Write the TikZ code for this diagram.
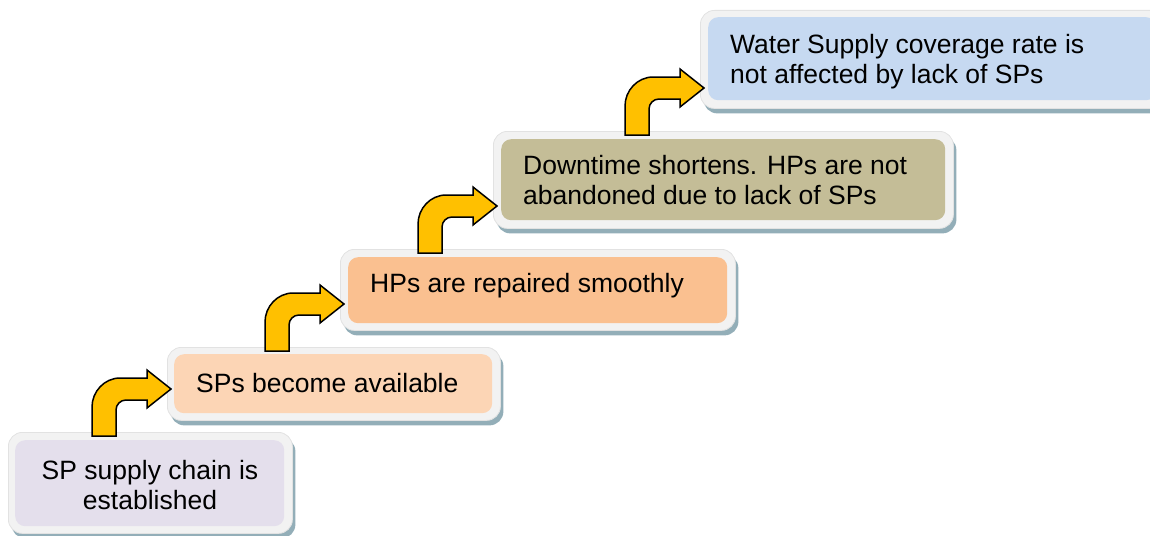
\documentclass[tikz,border=0pt]{standalone}
\usepackage{fontspec}
\setmainfont{Liberation Sans}
\usetikzlibrary{shadows}
\definecolor{cLav}{HTML}{E4DFEC}
\definecolor{cPeachA}{HTML}{FCD5B5}
\definecolor{cPeachB}{HTML}{FAC090}
\definecolor{cKhaki}{HTML}{C4BD97}
\definecolor{cBlue}{HTML}{C6D9F1}
\definecolor{cRim}{HTML}{F2F2F2}
\definecolor{cRimLine}{HTML}{E2E2E2}
\definecolor{cShadow}{HTML}{93AEB8}
\definecolor{cArrow}{HTML}{FFC000}
\begin{document}
\begin{tikzpicture}[x=1pt,y=-1pt,
  outerbox/.style={fill=cRim, draw=cRimLine, line width=0.8pt, rounded corners=14pt,
    inner sep=0pt, anchor=north west,
    general shadow={fill=cShadow, shadow xshift=3pt, shadow yshift=-5pt}},
  innerbox/.style={rounded corners=10pt, inner sep=0pt, anchor=north west, draw=none},
  label/.style={font=\fontsize{26.5}{30}\selectfont, inner sep=0pt, align=left, text=black},
  bentarrow/.style={fill=cArrow, draw=black, line width=1.5pt, line join=miter}
]
\useasboundingbox (0,0) rectangle (1150,535);
\clip (0,0) rectangle (1150,535);
% boxes (outer rim + shadow)
\node[outerbox, minimum width=284pt, minimum height=101pt] (b1) at (8,432) {};
\node[innerbox, fill=cLav, minimum width=269pt, minimum height=86pt] (i1) at (15,440) {};
\node[outerbox, minimum width=333pt, minimum height=73pt] (b2) at (167,347) {};
\node[innerbox, fill=cPeachA, minimum width=318pt, minimum height=59pt] (i2) at (174,354) {};
\node[outerbox, minimum width=395pt, minimum height=81pt] (b3) at (340,249) {};
\node[innerbox, fill=cPeachB, minimum width=379pt, minimum height=66pt] (i3) at (348,257) {};
\node[outerbox, minimum width=460pt, minimum height=97pt] (b4) at (493,131) {};
\node[innerbox, fill=cKhaki, minimum width=444pt, minimum height=81pt] (i4) at (501,139) {};
\node[outerbox, minimum width=465pt, minimum height=98pt] (b5) at (700,10) {};
\node[innerbox, fill=cBlue, minimum width=448pt, minimum height=83pt] (i5) at (708,17) {};
% texts
\node[label, align=center] (t1) at (150,485) {SP supply chain is\\established};
\node[label, anchor=west] (t2) at (196,383) {SPs become available};
\node[label, anchor=west] (t3) at (370,286) {HPs are repaired smoothly};
\node[label, anchor=west] (t4) at (523,180) {Downtime shortens. HPs are not\\abandoned due to lack of SPs};
\node[label, anchor=west] (t5) at (730,62) {Water Supply coverage rate is\\not affected by lack of SPs};
% bent arrows: tip at upper box's left edge, stem on lower box's top edge
\path (b2.west |- b1.north) ++(4,-43) coordinate (tip1);
\path (b3.west |- b2.north) ++(4,-43) coordinate (tip2);
\path (b4.west |- b3.north) ++(4,-43) coordinate (tip3);
\path (b5.west |- b4.north) ++(4,-43) coordinate (tip4);
\foreach \t in {tip1,tip2,tip3,tip4}{
  \draw[bentarrow, shift={(\t)}]
    (-79,47) -- (-79,18)
    .. controls (-79,2.5) and (-66.5,-11) .. (-51,-11)
    -- (-24,-11) -- (-24,-19) -- (0,0) -- (-24,19) -- (-24,11)
    -- (-45,11) .. controls (-50.5,11) and (-55,15.5) .. (-55,21)
    -- (-55,47) -- cycle;
}
\end{tikzpicture}
\end{document}
